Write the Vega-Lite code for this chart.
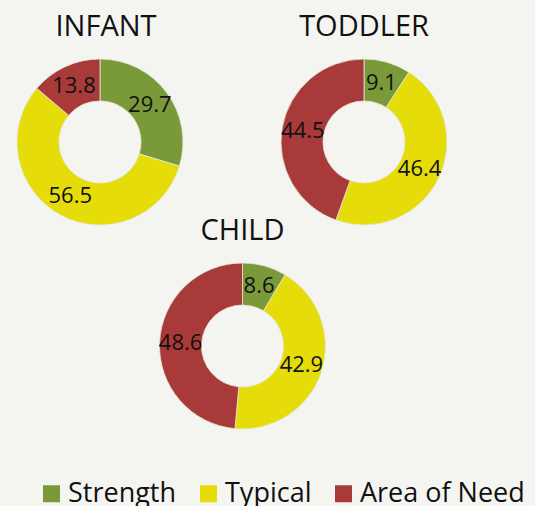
{
  "$schema": "https://vega.github.io/schema/vega-lite/v6.json",
  "background": "#f4f5f1",
  "padding": {"left": 15, "top": 13, "right": 35, "bottom": 5},
  "config": {
    "view": {"stroke": null},
    "font": "Open Sans",
    "title": {"fontSize": 29, "font": "Open Sans", "fontWeight": "normal", "color": "#111111", "offset": 15, "anchor": "middle"},
    "legend": {"orient": "none", "legendX": 23, "legendY": 423, "direction": "horizontal",
      "symbolType": "square", "symbolSize": 289, "symbolStrokeWidth": 0, "labelFont": "Open Sans", "labelFontSize": 27,
      "labelColor": "#111111", "labelOffset": 3, "columnPadding": 18, "labelLimit": 400, "padding": 0}
  },
  "datasets": {
    "d": [
      {"group": "INFANT", "category": "Strength", "idx": 1, "value": 29.7},
      {"group": "INFANT", "category": "Typical", "idx": 2, "value": 56.5},
      {"group": "INFANT", "category": "Area of Need", "idx": 3, "value": 13.8},
      {"group": "TODDLER", "category": "Strength", "idx": 1, "value": 9.1},
      {"group": "TODDLER", "category": "Typical", "idx": 2, "value": 46.4},
      {"group": "TODDLER", "category": "Area of Need", "idx": 3, "value": 44.5},
      {"group": "CHILD", "category": "Strength", "idx": 1, "value": 8.6},
      {"group": "CHILD", "category": "Typical", "idx": 2, "value": 42.9},
      {"group": "CHILD", "category": "Area of Need", "idx": 3, "value": 48.6}
    ]
  },
  "spacing": -10,
  "resolve": {"scale": {"color": "shared"}},
  "vconcat": [
    {
      "spacing": 94,
      "hconcat": [
        {
          "title": {"text": "INFANT", "dx": 6},
          "width": 170, "height": 170,
          "data": {"name": "d"},
          "transform": [{"filter": "datum.group === 'INFANT'"}],
          "encoding": {
            "theta": {"field": "value", "type": "quantitative", "stack": true},
            "order": {"field": "idx", "type": "quantitative"}
          },
          "layer": [
            {
              "mark": {"type": "arc", "innerRadius": 41, "outerRadius": 83, "stroke": "#e6e6d6", "strokeWidth": 0.8},
              "encoding": {
                "color": {"field": "category", "type": "nominal", "title": null,
                  "scale": {"domain": ["Strength", "Typical", "Area of Need"], "range": ["#7a9a3a", "#e6dc0a", "#a83a3a"]}}
              }
            },
            {
              "mark": {"type": "text", "radius": 62, "fontSize": 22, "font": "Open Sans", "color": "#111111"},
              "encoding": {
                "detail": {"field": "category", "type": "nominal"},
                "text": {"field": "value", "type": "quantitative", "format": ".1f"}
              }
            }
          ]
        },
        {
          "title": {"text": "TODDLER"},
          "width": 170, "height": 170,
          "data": {"name": "d"},
          "transform": [{"filter": "datum.group === 'TODDLER'"}],
          "encoding": {
            "theta": {"field": "value", "type": "quantitative", "stack": true},
            "order": {"field": "idx", "type": "quantitative"}
          },
          "layer": [
            {
              "mark": {"type": "arc", "innerRadius": 41, "outerRadius": 83, "stroke": "#e6e6d6", "strokeWidth": 0.8},
              "encoding": {
                "color": {"field": "category", "type": "nominal", "title": null}
              }
            },
            {
              "mark": {"type": "text", "radius": 62, "fontSize": 22, "font": "Open Sans", "color": "#111111"},
              "encoding": {
                "detail": {"field": "category", "type": "nominal"},
                "text": {"field": "value", "type": "quantitative", "format": ".1f"}
              }
            }
          ]
        }
      ]
    },
    {
      "title": {"text": "CHILD"},
      "width": 455, "height": 170,
      "data": {"name": "d"},
      "transform": [{"filter": "datum.group === 'CHILD'"}],
      "encoding": {
        "theta": {"field": "value", "type": "quantitative", "stack": true},
        "order": {"field": "idx", "type": "quantitative"}
      },
      "layer": [
        {
          "mark": {"type": "arc", "innerRadius": 41, "outerRadius": 83, "stroke": "#e6e6d6", "strokeWidth": 0.8},
          "encoding": {
            "color": {"field": "category", "type": "nominal", "title": null}
          }
        },
        {
          "mark": {"type": "text", "radius": 62, "fontSize": 22, "font": "Open Sans", "color": "#111111"},
          "encoding": {
            "detail": {"field": "category", "type": "nominal"},
            "text": {"field": "value", "type": "quantitative", "format": ".1f"}
          }
        }
      ]
    }
  ]
}
